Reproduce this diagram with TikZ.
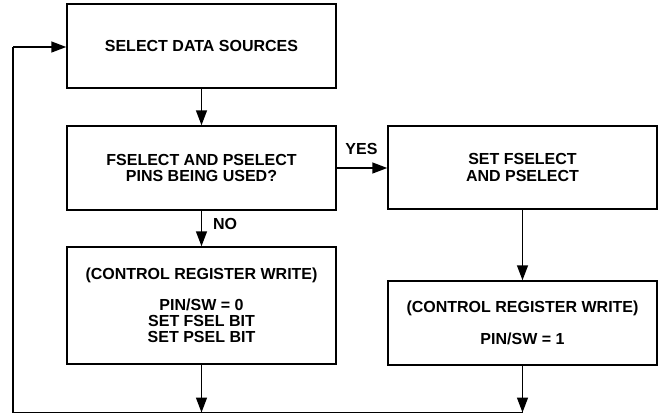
\documentclass[tikz,border=0pt]{standalone}
\usepackage{fontspec}
\setmainfont{Liberation Sans}
\usetikzlibrary{arrows.meta}
\tikzset{
  box/.style={draw, line width=1.5pt, rectangle, minimum width=269pt, inner sep=0pt, align=center,
    font=\bfseries\fontsize{16}{16.3}\selectfont},
  lbl/.style={inner sep=0pt, font=\bfseries\fontsize{16}{16.3}\selectfont},
  conn/.style={line width=1.5pt},
  arr/.style={line width=1.5pt, -{Triangle[length=15pt,width=11pt]}}
}
\begin{document}
\begin{tikzpicture}[x=1pt,y=-1pt]
\useasboundingbox (0,0) rectangle (658,416);
\node[box, minimum height=84pt] (b1) at (201.5,46) {SELECT DATA SOURCES};
\node[box, minimum height=84pt] (b2) at (201.5,168) {FSELECT AND PSELECT\\PINS BEING USED?};
\node[box, minimum height=117pt] (b3) at (201.5,305.5) {(CONTROL REGISTER WRITE)\\[14.5pt]PIN/SW = 0\\SET FSEL BIT\\SET PSEL BIT};
\node[box, minimum height=83pt] (b4) at (522.5,167.5) {SET FSELECT\\AND PSELECT};
\node[box, minimum height=84pt] (b5) at (522.5,323) {(CONTROL REGISTER WRITE)\\[15.5pt]PIN/SW = 1};
\node[lbl] (yes) at (361.5,148.7) {YES};
\node[lbl] (no) at (225,224) {NO};
\coordinate (bl) at (13,412.5);
\coordinate (tl) at (13,47);
\draw[arr] (b1.south) -- (b2.north);
\draw[arr] (b2.south) -- (b3.north);
\draw[arr] (b2.east) -- (b2.east -| b4.west);
\draw[arr] (b4.south) -- (b5.north);
\draw[arr] (b3.south) -- (b3.south |- bl);
\draw[arr] (b5.south) -- (b5.south |- bl);
\draw[conn] (b5.south |- bl) -- (bl) -- (tl);
\draw[arr] (tl) -- (tl -| b1.west);
\end{tikzpicture}
\end{document}
